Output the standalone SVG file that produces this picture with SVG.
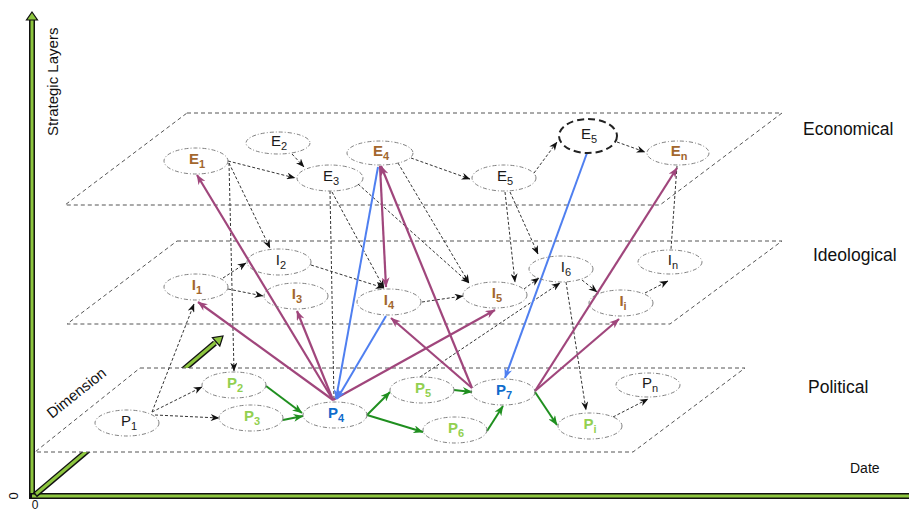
<svg xmlns="http://www.w3.org/2000/svg" width="909" height="512" viewBox="0 0 909 512">
<style>
.plane{fill:#fff;stroke:#555;stroke-width:1;stroke-dasharray:4 3}
.node ellipse{fill:none;stroke:#808080;stroke-width:1;stroke-dasharray:4 2 1 2}
.node ellipse.bold{stroke:#222;stroke-width:2;stroke-dasharray:7 4}
.dl{fill:none;stroke:#333;stroke-width:1;stroke-dasharray:3 2;marker-end:url(#ab)}
.dn{fill:none;stroke:#333;stroke-width:1;stroke-dasharray:3 2}
.pu{fill:none;stroke:#a0467c;stroke-width:2.2;marker-end:url(#ap)}
.bl{fill:none;stroke:#4f7ff0;stroke-width:2;marker-end:url(#abl)}
.gr{fill:none;stroke:#1f8f1f;stroke-width:2;marker-end:url(#ag)}
.lbl{font-family:"Liberation Sans",Arial,sans-serif;font-size:15px;text-anchor:middle}
.k{fill:#1a1a1a}
.br{fill:#a3672e;font-weight:bold}
.lg{fill:#92d050;font-weight:bold}
.bu{fill:#0f6ccc;font-weight:bold}
.sub{font-size:11px}
.title{font-family:"Liberation Sans",Arial,sans-serif;font-size:17.5px;fill:#111}
.ax{font-family:"Liberation Sans",Arial,sans-serif;fill:#111}
</style>
<defs>
<marker id="ab" viewBox="0 0 10 8" refX="9.5" refY="4" markerWidth="9" markerHeight="7" orient="auto" markerUnits="userSpaceOnUse"><path d="M0,0 L10,4 L0,8 L3,4 z" fill="#111"/></marker>
<marker id="ap" viewBox="0 0 10 8" refX="9.5" refY="4" markerWidth="11" markerHeight="8" orient="auto" markerUnits="userSpaceOnUse"><path d="M0,0 L10,4 L0,8 L3,4 z" fill="#a0467c"/></marker>
<marker id="abl" viewBox="0 0 10 8" refX="9.5" refY="4" markerWidth="11" markerHeight="8" orient="auto" markerUnits="userSpaceOnUse"><path d="M0,0 L10,4 L0,8 L3,4 z" fill="#4f7ff0"/></marker>
<marker id="ag" viewBox="0 0 10 8" refX="9.5" refY="4" markerWidth="11" markerHeight="8" orient="auto" markerUnits="userSpaceOnUse"><path d="M0,0 L10,4 L0,8 L3,4 z" fill="#1f8f1f"/></marker>
</defs>
<rect width="909" height="512" fill="#fff"/>

<g id="axes">
<line x1="32" y1="498" x2="32" y2="19" stroke="#111" stroke-width="6"/>
<line x1="32" y1="496" x2="32" y2="19" stroke="#8dc63f" stroke-width="3"/>
<polygon points="32,12 37.5,20 26.5,20" fill="#8dc63f" stroke="#111" stroke-width="1.2"/>
<line x1="29" y1="496" x2="909" y2="496" stroke="#111" stroke-width="6"/>
<line x1="32" y1="496" x2="909" y2="496" stroke="#8dc63f" stroke-width="3"/>
<line x1="35" y1="495" x2="215" y2="343" stroke="#111" stroke-width="6"/>
<line x1="36" y1="494" x2="216" y2="342" stroke="#8dc63f" stroke-width="3"/>
<polygon points="223,336 219.8,346 212.4,337.6" fill="#8dc63f" stroke="#111" stroke-width="1.2"/>
<text class="ax" font-size="15" transform="translate(58,136) rotate(-90)">Strategic Layers</text>
<text class="ax" font-size="12" x="35" y="509" text-anchor="middle">0</text>
<text class="ax" font-size="13" transform="translate(18,496) rotate(-90)" text-anchor="middle">0</text>
<text class="ax" font-size="14" x="850" y="473">Date</text>
</g>

<g id="planes">
<polygon class="plane" points="187,113 782,113 660,205 65,205"/>
<polygon class="plane" points="177,241 782,241 670,324 67,324"/>
<polygon class="plane" points="140,368 745,368 633,452 35,452"/>
<text class="ax" font-size="15" transform="translate(52,419) rotate(-38.7)">Dimension</text>
<text class="title" x="803" y="135">Economical</text>
<text class="title" x="813" y="261">Ideological</text>
<text class="title" x="808" y="393">Political</text>
</g>

<g id="connectors">
<path class="dl" d="M292,154 L304,167"/>
<path class="dl" d="M228,161 L295,178"/>
<path class="dl" d="M411,158 L470,179"/>
<path class="dl" d="M534,173 L557,142"/>
<path class="dl" d="M617,142 L645,152"/>
<path class="dl" d="M229,163 L270,248"/>
<path class="dl" d="M229,163 L234,371"/>
<path class="dn" d="M330,191 L334,400"/>
<path class="dl" d="M332,192 L384,288"/>
<path class="dl" d="M358,184 L469,283"/>
<path class="dl" d="M398,163 L469,283"/>
<path class="dl" d="M505,192 L515,282"/>
<path class="dl" d="M510,192 L538,254"/>
<path class="dn" d="M677,166 L671,249"/>
<path class="dl" d="M223,278 L246,263"/>
<path class="dl" d="M228,289 L263,296"/>
<path class="dl" d="M311,265 L384,288"/>
<path class="dl" d="M422,302 L463,296"/>
<path class="dl" d="M524,289 L539,278"/>
<path class="dl" d="M420,377 L560,283"/>
<path class="dl" d="M582,280 L597,292"/>
<path class="dl" d="M566,282 L586,410"/>
<path class="dl" d="M645,293 L668,281"/>
<path class="dl" d="M152,412 L194,304"/>
<path class="dl" d="M152,412 L202,387"/>
<path class="dl" d="M155,415 L219,418"/>
<path class="dl" d="M613,417 L648,399"/>
<path class="pu" d="M333,400 L197,175"/>
<path class="pu" d="M333,400 L198,302"/>
<path class="pu" d="M333,400 L297,311"/>
<path class="pu" d="M333,400 L495,310"/>
<path class="pu" d="M472,388 L381,166"/>
<path class="pu" d="M472,388 L391,318"/>
<path class="pu" d="M380,166 L386,287"/>
<path class="pu" d="M535,391 L677,168"/>
<path class="pu" d="M535,391 L619,319"/>
<path class="bl" d="M378,167 L336,399"/>
<path class="bl" d="M386,316 L337,399"/>
<path class="bl" d="M587,153 L505,378"/>
<path class="gr" d="M266,386 L302,413"/>
<path class="gr" d="M283,420 L303,416"/>
<path class="gr" d="M367,415 L390,392"/>
<path class="gr" d="M367,415 L423,432"/>
<path class="gr" d="M454,390 L472,392"/>
<path class="gr" d="M487,431 L503,406"/>
<path class="gr" d="M535,392 L557,425"/>
</g>

<g id="E1" class="node"><ellipse cx="196" cy="161" rx="32" ry="13"/><text class="lbl br" x="197" y="164">E<tspan class="sub" dy="4">1</tspan></text></g>
<g id="E2" class="node"><ellipse cx="278" cy="143" rx="32" ry="11"/><text class="lbl k" x="279" y="146">E<tspan class="sub" dy="4">2</tspan></text></g>
<g id="E3" class="node"><ellipse cx="330" cy="178" rx="33" ry="13"/><text class="lbl k" x="331" y="181">E<tspan class="sub" dy="4">3</tspan></text></g>
<g id="E4" class="node"><ellipse cx="380" cy="153" rx="33" ry="12"/><text class="lbl br" x="381" y="156">E<tspan class="sub" dy="4">4</tspan></text></g>
<g id="E5a" class="node"><ellipse cx="504" cy="178" rx="32" ry="13"/><text class="lbl k" x="505" y="181">E<tspan class="sub" dy="4">5</tspan></text></g>
<g id="E5b" class="node"><ellipse class="bold" cx="588" cy="136" rx="29" ry="17"/><text class="lbl k" x="589" y="139">E<tspan class="sub" dy="4">5</tspan></text></g>
<g id="En" class="node"><ellipse cx="678" cy="153" rx="31" ry="12"/><text class="lbl br" x="679" y="156">E<tspan class="sub" dy="4">n</tspan></text></g>

<g id="I1" class="node"><ellipse cx="196" cy="287" rx="32" ry="13"/><text class="lbl br" x="197" y="290">I<tspan class="sub" dy="4">1</tspan></text></g>
<g id="I2" class="node"><ellipse cx="279" cy="262" rx="32" ry="13"/><text class="lbl k" x="281" y="265">I<tspan class="sub" dy="4">2</tspan></text></g>
<g id="I3" class="node"><ellipse cx="296" cy="296" rx="32" ry="13"/><text class="lbl br" x="297" y="299">I<tspan class="sub" dy="4">3</tspan></text></g>
<g id="I4" class="node"><ellipse cx="389" cy="302" rx="32" ry="13"/><text class="lbl br" x="389" y="305">I<tspan class="sub" dy="4">4</tspan></text></g>
<g id="I5" class="node"><ellipse cx="495" cy="295" rx="32" ry="13"/><text class="lbl br" x="497" y="298">I<tspan class="sub" dy="4">5</tspan></text></g>
<g id="I6" class="node"><ellipse cx="561" cy="269" rx="32" ry="13"/><text class="lbl k" x="566" y="272">I<tspan class="sub" dy="4">6</tspan></text></g>
<g id="Ii" class="node"><ellipse cx="621" cy="303" rx="32" ry="13"/><text class="lbl br" x="623" y="306">I<tspan class="sub" dy="4">i</tspan></text></g>
<g id="In" class="node"><ellipse cx="670" cy="262" rx="32" ry="12"/><text class="lbl k" x="673" y="265">I<tspan class="sub" dy="4">n</tspan></text></g>

<g id="P1" class="node"><ellipse cx="127" cy="423" rx="32" ry="13"/><text class="lbl k" x="129" y="426">P<tspan class="sub" dy="4">1</tspan></text></g>
<g id="P2" class="node"><ellipse cx="234" cy="385" rx="32" ry="13"/><text class="lbl lg" x="235" y="388">P<tspan class="sub" dy="4">2</tspan></text></g>
<g id="P3" class="node"><ellipse cx="251" cy="418" rx="32" ry="13"/><text class="lbl lg" x="252" y="421">P<tspan class="sub" dy="4">3</tspan></text></g>
<g id="P4" class="node"><ellipse cx="335" cy="415" rx="32" ry="13"/><text class="lbl bu" x="336" y="418">P<tspan class="sub" dy="4">4</tspan></text></g>
<g id="P5" class="node"><ellipse cx="422" cy="390" rx="32" ry="13"/><text class="lbl lg" x="423" y="393">P<tspan class="sub" dy="4">5</tspan></text></g>
<g id="P6" class="node"><ellipse cx="455" cy="430" rx="32" ry="13"/><text class="lbl lg" x="456" y="433">P<tspan class="sub" dy="4">6</tspan></text></g>
<g id="P7" class="node"><ellipse cx="503" cy="392" rx="32" ry="13"/><text class="lbl bu" x="504" y="395">P<tspan class="sub" dy="4">7</tspan></text></g>
<g id="Pi" class="node"><ellipse cx="590" cy="426" rx="32" ry="13"/><text class="lbl lg" x="590" y="429">P<tspan class="sub" dy="4">i</tspan></text></g>
<g id="Pn" class="node"><ellipse cx="648" cy="385" rx="32" ry="12"/><text class="lbl k" x="650" y="388">P<tspan class="sub" dy="4">n</tspan></text></g>
</svg>
